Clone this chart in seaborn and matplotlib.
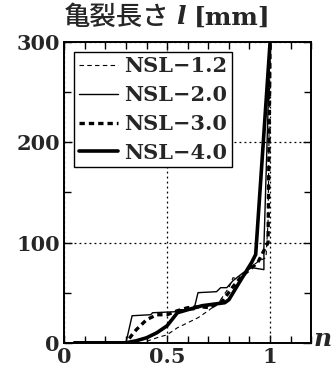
import numpy as np
import pandas as pd
import matplotlib
matplotlib.use("Agg")
import matplotlib.pyplot as plt
import seaborn as sns
from matplotlib.ticker import MultipleLocator

# 回数比 n と亀裂長さ l [mm]
n_12 = [0.10, 0.38, 0.45, 0.50, 0.55, 0.60, 0.65, 0.70, 0.75, 0.80, 0.82, 0.85, 0.90, 0.95, 0.98, 0.99, 1.00]
l_12 = [0, 0, 5, 8, 15, 20, 25, 32, 40, 55, 65, 63, 75, 82, 85, 120, 300]

n_20 = [0.00, 0.30, 0.33, 0.42, 0.43, 0.54, 0.56, 0.63, 0.65, 0.74, 0.76, 0.79, 0.82, 0.87, 0.91, 0.97, 0.97, 1.00]
l_20 = [0, 0, 27, 28, 30, 31, 33, 33, 50, 51, 55, 55, 62, 70, 75, 73, 96, 300]

n_30 = [0.10, 0.30, 0.33, 0.35, 0.40, 0.45, 0.50, 0.55, 0.60, 0.66, 0.71, 0.77, 0.82, 0.86, 0.94, 0.99, 1.00]
l_30 = [0, 0, 8, 13, 23, 28, 28, 32, 35, 36, 35, 42, 56, 66, 80, 100, 300]

n_40 = [0.05, 0.30, 0.35, 0.40, 0.45, 0.50, 0.55, 0.60, 0.67, 0.78, 0.80, 0.85, 0.91, 0.93, 1.00]
l_40 = [0, 0, 2, 5, 10, 17, 30, 33, 37, 40, 43, 60, 80, 88, 300]

labels = ["NSL−1.2", "NSL−2.0", "NSL−3.0", "NSL−4.0"]
series = [(n_12, l_12), (n_20, l_20), (n_30, l_30), (n_40, l_40)]
styles = [
    dict(lw=0.8, ls=(0, (4, 3))),
    dict(lw=1.0, ls="-"),
    dict(lw=2.4, ls=(0, (1.6, 1.2))),
    dict(lw=2.6, ls="-"),
]

sns.set_style("ticks")
plt.rcParams["font.family"] = ["DejaVu Serif"]

fig = plt.figure(figsize=(3.34, 3.69), dpi=100)
ax = fig.add_axes([0.192, 0.071, 0.740, 0.815])

for (x, y), lab, st in zip(series, labels, styles):
    df = pd.DataFrame({"n": x, "l": y})
    sns.lineplot(data=df, x="n", y="l", sort=False, estimator=None,
                 color="black", label=lab, ax=ax, **st)

ax.set_xlim(0, 1.2)
ax.set_ylim(0, 300)
ax.xaxis.set_minor_locator(MultipleLocator(0.1))
ax.yaxis.set_major_locator(MultipleLocator(100))
ax.yaxis.set_minor_locator(MultipleLocator(50))
ax.set_xticks([0, 0.5, 1])
ax.set_xticklabels(["0", "0.5", "1"])
ax.grid(True, which="major", color="black", ls=(0, (1.5, 2.5)), lw=0.9)
ax.tick_params(which="both", direction="in", top=True, right=True,
               labelsize=15, width=1.0, color="black", pad=3)
ax.tick_params(which="major", length=6)
ax.tick_params(which="minor", length=5)
for lab in ax.get_xticklabels() + ax.get_yticklabels():
    lab.set_fontweight("bold")
for sp in ax.spines.values():
    sp.set_linewidth(1.4)
    sp.set_color("black")
ax.set_xlabel("")
ax.set_ylabel("")

leg = ax.legend(loc="upper left", bbox_to_anchor=(0.025, 0.98), prop=dict(size=15, weight="bold"),
                frameon=True, fancybox=False, edgecolor="black", framealpha=1,
                handlelength=1.9, handletextpad=0.3, labelspacing=0.42, borderpad=0.2,
                borderaxespad=0.2)
leg.get_frame().set_linewidth(1.0)

fig.text(0.192, 0.953, "亀裂長さ", family="Noto Sans CJK JP", fontsize=19,
         fontweight="medium", va="center", ha="left")
fig.text(0.528, 0.953, "l", fontsize=18, style="italic", fontweight="bold",
         va="center", ha="left")
fig.text(0.580, 0.953, "[mm]", fontsize=18, fontweight="bold", va="center", ha="left")
fig.text(0.965, 0.08, "n", fontsize=18, style="italic", fontweight="bold",
         va="center", ha="center")

fig.savefig("out.png", dpi=100)
